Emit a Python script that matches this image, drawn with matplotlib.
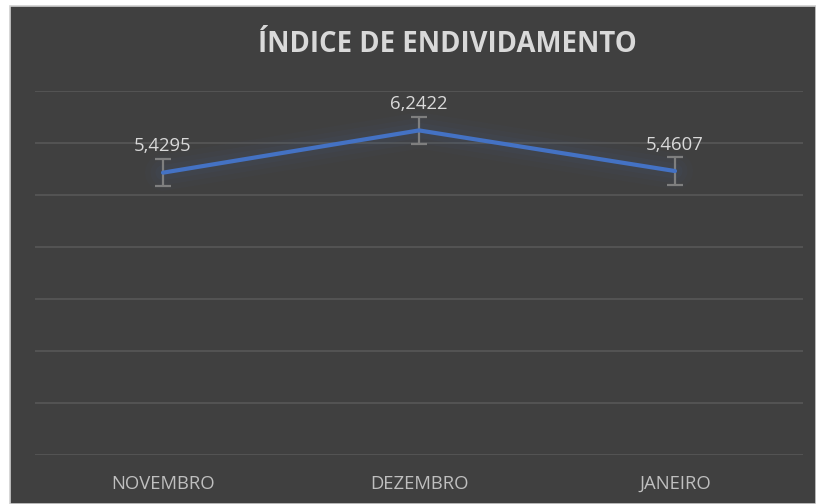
import matplotlib
matplotlib.use("Agg")
import matplotlib.pyplot as plt
from matplotlib.patches import Rectangle

categories = ["NOVEMBRO", "DEZEMBRO", "JANEIRO"]
values = [5.4295, 6.2422, 5.4607]
errors = [0.266, 0.266, 0.266]
labels = ["5,4295", "6,2422", "5,4607"]
title = "ÍNDICE DE ENDIVIDAMENTO"

W, H = 816, 504
fig = plt.figure(figsize=(W / 100, H / 100), dpi=100)
fig.patch.set_facecolor("white")
bg = Rectangle((10 / W, 0), 1 - 10 / W, 1 - 6 / H, transform=fig.transFigure,
               facecolor="#404040", edgecolor="#d0d0d0", linewidth=1.2, zorder=-10)
fig.add_artist(bg)

ax = fig.add_axes([35 / W, 1 - 455 / H, 768 / W, 364 / H])
ax.set_zorder(1)
ax.set_facecolor("none")
x = list(range(len(categories)))
ax.set_xlim(-0.5, len(categories) - 0.5)
ax.set_ylim(0, 7)
ax.set_yticks(range(0, 8))
ax.yaxis.grid(True, color="#595959", linewidth=1.1)
ax.set_axisbelow(True)
ax.tick_params(axis="y", left=False, labelleft=False)
ax.tick_params(axis="x", bottom=False, pad=11, labelsize=13.3, labelcolor="#bfbfbf")
ax.set_xticks(x)
ax.set_xticklabels(categories, fontfamily="Open Sans")
for s in ax.spines.values():
    s.set_visible(False)

# soft glow
for lw, a in [(26, 0.025), (18, 0.035), (11, 0.045)]:
    ax.plot(x, values, color="#4472C4", linewidth=lw, alpha=a, solid_capstyle="round", zorder=2)
ax.errorbar(x, values, yerr=errors, fmt="none", ecolor="#7f7f7f", elinewidth=1.6,
            capsize=5.5, capthick=1.6, zorder=3)
ax.plot(x, values, color="#4472C4", linewidth=3, zorder=4, solid_capstyle="round")

for xi, v, t in zip(x, values, labels):
    ax.annotate(t, (xi, v), xytext=(0, 19), textcoords="offset points", ha="center", va="center",
                fontsize=13.3, color="#d9d9d9", fontfamily="Open Sans")

t = fig.text(447 / W, 1 - 45 / H, title, ha="center", va="center", fontsize=19.8, fontweight="bold",
             color="#d9d9d9", fontfamily="Open Sans")
t.set_zorder(2)

fig.savefig("out.png", dpi=100)
